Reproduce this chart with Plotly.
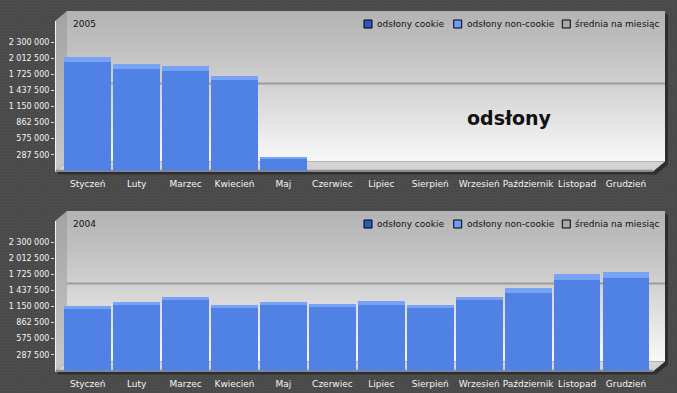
import base64
import plotly.graph_objects as go

# ---------------- data ----------------
months = ["Styczeń", "Luty", "Marzec", "Kwiecień", "Maj", "Czerwiec",
          "Lipiec", "Sierpień", "Wrzesień", "Październik", "Listopad", "Grudzień"]

cookie_2005 = [1951000, 1820000, 1785000, 1624000, 204000,
               None, None, None, None, None, None, None]
noncookie_2005 = [90000, 95000, 84000, 77000, 36000,
                  None, None, None, None, None, None, None]

cookie_2004 = [1099000, 1169000, 1271000, 1122000, 1171000, 1145000,
               1182000, 1122000, 1265000, 1396000, 1624000, 1660000]
noncookie_2004 = [59000, 66000, 48000, 54000, 59000, 54000,
                  66000, 54000, 54000, 84000, 107000, 107000]

tick_vals = [287500, 575000, 862500, 1150000, 1437500, 1725000, 2012500, 2300000]
tick_text = ["287 500", "575 000", "862 500", "1 150 000", "1 437 500",
             "1 725 000", "2 012 500", "2 300 000"]

years = ["2005", "2004"]
legend_names = ["odsłony cookie", "odsłony non-cookie", "średnia na miesiąc"]

# average per month over all months with data (both years)
totals = [c + n for c, n in zip(cookie_2005 + cookie_2004, noncookie_2005 + noncookie_2004)
          if c is not None]
avg_month = sum(totals) / len(totals)

# ---------------- style / geometry ----------------
W, H = 677, 393
C_MAIN = "#5082e6"
C_TOP = "#78a2f5"
LEG_COLORS = ["#2a58c4", "#6c9cf8", "#a9a9a9"]
DX, DY = 12, 10          # 3D depth of panels
PX_PER_TICK = 16.057
ZERO_Y = [170.76, 370.76]
TOP_Y = [11, 211]
FRONT_L, FRONT_R = 55, 653
CAT_PITCH = 48.94
FIRST_CENTER = 87.7


def panel_svg(oy):
    fl, fr = FRONT_L, FRONT_R
    fb = 171.5 + oy
    bt = 11 + oy
    bb = fb - DY
    bl, br = fl + DX, fr + DX
    ft = bt + DY
    outline = [(fl, ft), (bl, bt), (br, bt), (br, bb), (fr, fb), (fl, fb)]
    sh = " ".join(f"{x+3},{y+3}" for x, y in outline)
    s = f'<polygon points="{sh}" fill="#2e2e2e"/>'
    s += f'<rect x="{bl}" y="{bt}" width="{br-bl}" height="{bb-bt}" fill="url(#back)"/>'
    s += (f'<polygon points="{fl},{ft} {bl},{bt} {bl},{bb} {fl},{fb}" fill="url(#wall)"/>')
    s += (f'<polygon points="{fl},{fb} {fr},{fb} {br},{bb} {bl},{bb}" fill="#d3d3d3"/>')
    s += f'<rect x="{fl}" y="{fb-1.8}" width="{fr-fl}" height="1.8" fill="#8e8e8e"/>'
    s += f'<line x1="{fl+0.5}" y1="{ft}" x2="{fl+0.5}" y2="{fb}" stroke="#f2f2f2" stroke-width="1"/>'
    return s


svg = (f'<svg xmlns="http://www.w3.org/2000/svg" width="{W}" height="{H}" viewBox="0 0 {W} {H}">'
       '<defs>'
       '<pattern id="dots" width="3" height="3" patternUnits="userSpaceOnUse">'
       '<rect width="3" height="3" fill="#4a4a4a"/><rect width="1" height="1" fill="#545454"/></pattern>'
       '<linearGradient id="back" x1="0" y1="0" x2="0" y2="1">'
       '<stop offset="0" stop-color="#b3b3b3"/><stop offset="0.3" stop-color="#c3c3c3"/>'
       '<stop offset="0.5" stop-color="#d2d2d2"/><stop offset="1" stop-color="#f8f8f8"/></linearGradient>'
       '<linearGradient id="wall" x1="0" y1="0" x2="0" y2="1">'
       '<stop offset="0" stop-color="#a2a2a2"/><stop offset="1" stop-color="#c9c9c9"/></linearGradient>'
       '</defs>'
       f'<rect width="{W}" height="{H}" fill="url(#dots)"/>'
       + panel_svg(0) + panel_svg(200) +
       '</svg>')
bg_uri = "data:image/svg+xml;base64," + base64.b64encode(svg.encode("utf-8")).decode()

fig = go.Figure()

series = [(cookie_2005, noncookie_2005), (cookie_2004, noncookie_2004)]
x_r0 = -(FIRST_CENTER - FRONT_L) / CAT_PITCH
x_r1 = x_r0 + (FRONT_R - FRONT_L) / CAT_PITCH

shapes, annotations = [], []
for i, (cookie, noncookie) in enumerate(series):
    xa = "x" if i == 0 else "x2"
    ya = "y" if i == 0 else "y2"
    fig.add_trace(go.Bar(x=months, y=cookie, name=legend_names[0], marker_color=C_MAIN,
                         marker_line_width=0, xaxis=xa, yaxis=ya, showlegend=False,
                         hoverinfo="skip"))
    fig.add_trace(go.Bar(x=months, y=noncookie, name=legend_names[1], marker_color=C_TOP,
                         marker_line_width=0, xaxis=xa, yaxis=ya, showlegend=False,
                         hoverinfo="skip"))

    axis_sfx = "" if i == 0 else "2"
    dom_lo = 1 - ZERO_Y[i] / H
    dom_hi = 1 - TOP_Y[i] / H
    y_top = (ZERO_Y[i] - TOP_Y[i]) / PX_PER_TICK * 287500
    fig.update_layout(**{
        "xaxis" + axis_sfx: dict(domain=[FRONT_L / W, FRONT_R / W], range=[x_r0, x_r1],
                                 anchor=ya, showgrid=False, zeroline=False, showline=False,
                                 ticks="outside", ticklen=4, tickcolor="rgba(0,0,0,0)",
                                 tickfont=dict(family="DejaVu Sans", size=9, color="#f4f4f4"),
                                 type="category", fixedrange=True),
        "yaxis" + axis_sfx: dict(domain=[dom_lo, dom_hi], range=[0, y_top], anchor=xa,
                                 tickvals=tick_vals, ticktext=tick_text, showgrid=False,
                                 zeroline=False, showline=False, ticks="outside", ticklen=3,
                                 tickcolor="#d8d8d8",
                                 tickfont=dict(family="DejaVu Sans", size=8, color="#f4f4f4"),
                                 fixedrange=True),
    })

    # average line, drawn on the back wall (shifted by 3D depth)
    shapes.append(dict(type="line", xref="paper", yref=ya, ysizemode="pixel",
                       yanchor=avg_month, x0=(FRONT_L + DX) / W, x1=(FRONT_R + DX) / W,
                       y0=DY - 1, y1=DY - 1, line=dict(color="#9a9a9a", width=2), layer="below"))

    oy = 200 * i
    # year label
    annotations.append(dict(text=years[i], x=71 / W, y=1 - (24 + oy) / H, xref="paper",
                            yref="paper", xanchor="left", yanchor="middle", showarrow=False,
                            font=dict(family="DejaVu Sans", size=9, color="#111111")))
    # legend
    sq_x = [364, 453.7, 562.3]
    for k in range(3):
        shapes.append(dict(type="rect", xref="paper", yref="paper",
                           x0=sq_x[k] / W, x1=(sq_x[k] + 8) / W,
                           y0=1 - (28 + oy) / H, y1=1 - (20 + oy) / H,
                           fillcolor=LEG_COLORS[k], line=dict(color="#000000", width=1)))
        annotations.append(dict(text=legend_names[k], x=(sq_x[k] + 11) / W,
                                y=1 - (24 + oy) / H, xref="paper", yref="paper",
                                xanchor="left", yanchor="middle", showarrow=False,
                                font=dict(family="DejaVu Sans", size=9, color="#111111")))

annotations.append(dict(text="<b>odsłony</b>", x=509 / W, y=1 - 118 / H, xref="paper",
                        yref="paper", xanchor="center", yanchor="middle", showarrow=False,
                        font=dict(family="DejaVu Sans", size=19, color="#111111")))

fig.update_layout(
    width=W, height=H, autosize=False,
    margin=dict(l=0, r=0, t=0, b=0),
    paper_bgcolor="#4a4a4a", plot_bgcolor="rgba(0,0,0,0)",
    barmode="stack", bargap=0.045,
    showlegend=False, hovermode=False,
    shapes=shapes, annotations=annotations,
    images=[dict(source=bg_uri, xref="paper", yref="paper", x=0, y=1, sizex=1, sizey=1,
                 xanchor="left", yanchor="top", sizing="stretch", layer="below")],
)

fig.write_html("out.html",
               config={"displayModeBar": False, "staticPlot": True},
               post_script="document.body.style.margin='0px';"
                           "document.body.style.overflow='hidden';")
